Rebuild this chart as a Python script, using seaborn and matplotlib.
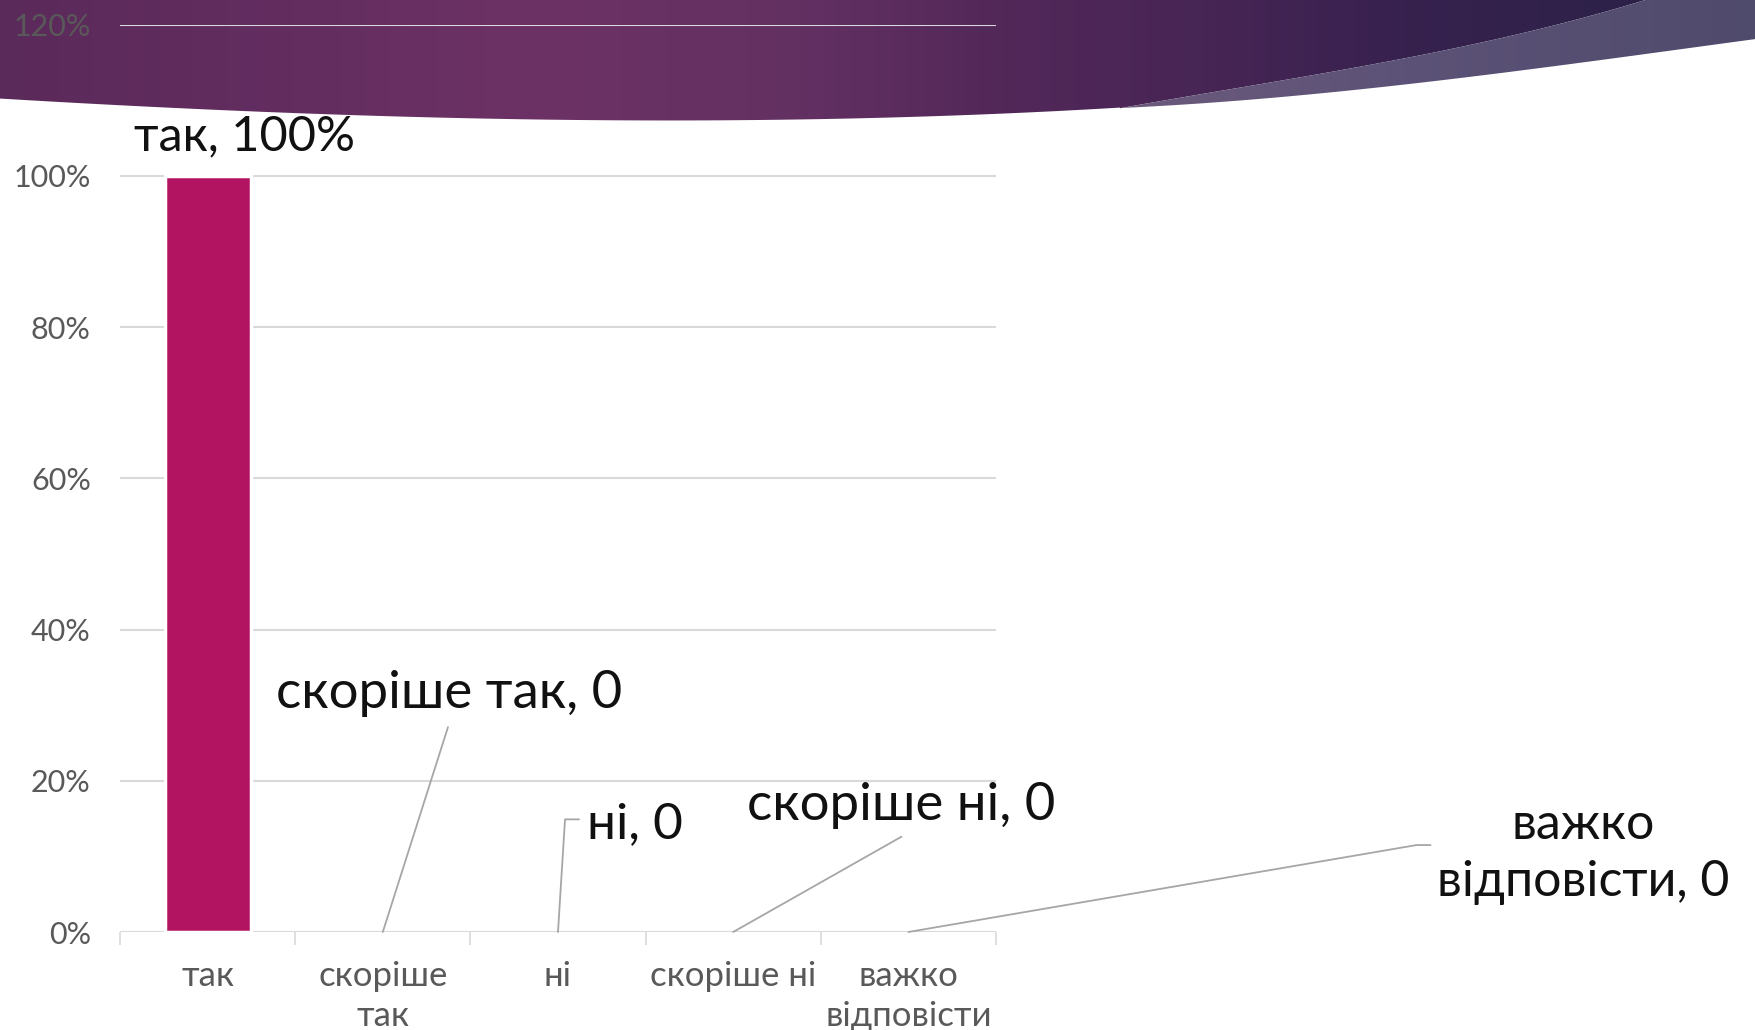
import numpy as np
import pandas as pd
import matplotlib
matplotlib.use("Agg")
import matplotlib.pyplot as plt
import seaborn as sns
from matplotlib.path import Path
from matplotlib.patches import PathPatch
from matplotlib.colors import to_rgb

# ---------------- data ----------------
categories = ["так", "скоріше так", "ні", "скоріше ні", "важко відповісти"]
tick_labels = ["так", "скоріше\nтак", "ні", "скоріше ні", "важко\nвідповісти"]
values = [1.00, 0.0, 0.0, 0.0, 0.0]
data_labels = ["так, 100%", "скоріше так, 0", "ні, 0", "скоріше ні, 0", "важко\nвідповісти, 0"]
y_ticks = [0.0, 0.2, 0.4, 0.6, 0.8, 1.0, 1.2]
y_tick_labels = ["0%", "20%", "40%", "60%", "80%", "100%", "120%"]

# label layout (data coords): text centre and leader-line points
label_pos = [(0.21, 1.052), (1.378, 0.315), (2.44, 0.143), (3.96, 0.167), (7.85, 0.104)]
leaders = [None,
           [(1.372, 0.271), (1.0, 0.0)],
           [(2.12, 0.149), (2.04, 0.149), (2.0, 0.0)],
           [(3.96, 0.126), (3.0, 0.0)],
           [(6.98, 0.115), (6.90, 0.115), (4.0, 0.0)]]

df = pd.DataFrame({"cat": categories, "val": values})

sns.set_theme(style="white")
plt.rcParams["font.family"] = ["Lato", "DejaVu Sans"]

W, H = 1755, 1030
fig = plt.figure(figsize=(W / 100, H / 100), dpi=100)
fig.patch.set_facecolor("white")

# ---------------- decorative banner ----------------
bg = fig.add_axes([0, 0, 1, 1])
bg.set_xlim(0, W)
bg.set_ylim(H, 0)
bg.axis("off")
bg.set_zorder(0)


def hgrad(stops, n=800):
    xs = np.linspace(0, W, n)
    sx = [s[0] for s in stops]
    cols = np.array([to_rgb(s[1]) for s in stops])
    img = np.stack([np.interp(xs, sx, cols[:, k]) for k in range(3)], axis=-1)
    return img[np.newaxis, :, :]


def curve(pts, x_from, x_to, n=80):
    px = np.array([p[0] for p in pts], float)
    py = np.array([p[1] for p in pts], float)
    c = np.polyfit(px, py, min(3, len(pts) - 1))
    xs = np.linspace(x_from, x_to, n)
    return list(zip(xs, np.polyval(c, xs)))


bottom_edge = curve([(1120, 108), (900, 116), (650, 121.5), (400, 117), (200, 108), (0, 99)], 1120, -10)
inner_curve = curve([(1645, 0), (1481, 43), (1337, 70), (1230, 90), (1120, 108)], 1645, 1120)
outer_curve = curve([(1120, 108), (1337, 92), (1481, 75), (1626, 57), (W, 39)], 1120, W + 10)

dark_pts = [(-10, -10), (1700, -10)] + inner_curve + bottom_edge
light_pts = outer_curve + [(W + 10, -10), (1700, -10)] + inner_curve

dark_stops = [(0, "#5a2a5a"), (300, "#632d60"), (536, "#6d3265"), (800, "#633062"),
              (1000, "#522859"), (1200, "#472555"), (1400, "#37214e"), (1620, "#2d2149"), (W, "#2c1f48")]
light_stops = [(0, "#6b5a7c"), (1120, "#6b5a7c"), (1400, "#5c5277"), (W, "#4f4b6c")]

for pts, stops in [(dark_pts, dark_stops), (light_pts, light_stops)]:
    patch = PathPatch(Path(pts + [pts[0]], closed=True), facecolor="none", edgecolor="none")
    bg.add_patch(patch)
    im = bg.imshow(hgrad(stops), extent=(-10, W + 10, 135, -10), aspect="auto", zorder=1,
                   interpolation="bilinear")
    im.set_clip_path(patch)
bg.set_xlim(0, W)
bg.set_ylim(H, 0)

# ---------------- main chart ----------------
ax_left, ax_right = 120, 996
y0_px, y120_px = 932, 24.8
ax = fig.add_axes([ax_left / W, (H - y0_px) / H, (ax_right - ax_left) / W, (y0_px - y120_px) / H])
ax.set_zorder(2)
ax.patch.set_alpha(0)

sns.barplot(data=df, x="cat", y="val", color="#b31461", width=0.49,
            edgecolor="white", linewidth=2.5, saturation=1, ax=ax)
for p in ax.patches:
    if p.get_height() == 0:
        p.set_linewidth(0)

ax.set_xlim(-0.5, 4.5)
ax.set_ylim(0, 1.2)
ax.set_yticks(y_ticks)
ax.set_yticklabels(y_tick_labels)
ax.set_xticks(range(len(categories)))
ax.set_xticklabels(tick_labels, linespacing=1.3)
ax.set_xticks(np.arange(-0.5, 5.0, 1.0), minor=True)
ax.set_xlabel("")
ax.set_ylabel("")
ax.yaxis.grid(True, color="#d9d9d9", linewidth=1.5)
ax.set_axisbelow(True)
for s in ax.spines.values():
    s.set_visible(False)
ax.tick_params(axis="y", left=False, length=0, pad=21, labelsize=22, labelcolor="#595959")
ax.tick_params(axis="x", which="major", bottom=False, length=0, pad=20, labelsize=25,
               labelcolor="#595959")
ax.tick_params(axis="x", which="minor", bottom=True, length=9.5, width=1.2, color="#d9d9d9",
               direction="out")

sizes = [35, 38, 37, 38, 36]
for i, (txt, (lx, ly)) in enumerate(zip(data_labels, label_pos)):
    ax.text(lx, ly, txt, ha="center", va="center", fontsize=sizes[i], color="#111111",
            linespacing=1.28, clip_on=False)
    if leaders[i] is not None:
        xs = [p[0] for p in leaders[i]]
        ys = [p[1] for p in leaders[i]]
        ax.plot(xs, ys, color="#a6a6a6", linewidth=1.3, clip_on=False, zorder=3)

fig.savefig("out.png", dpi=100, facecolor="white")
